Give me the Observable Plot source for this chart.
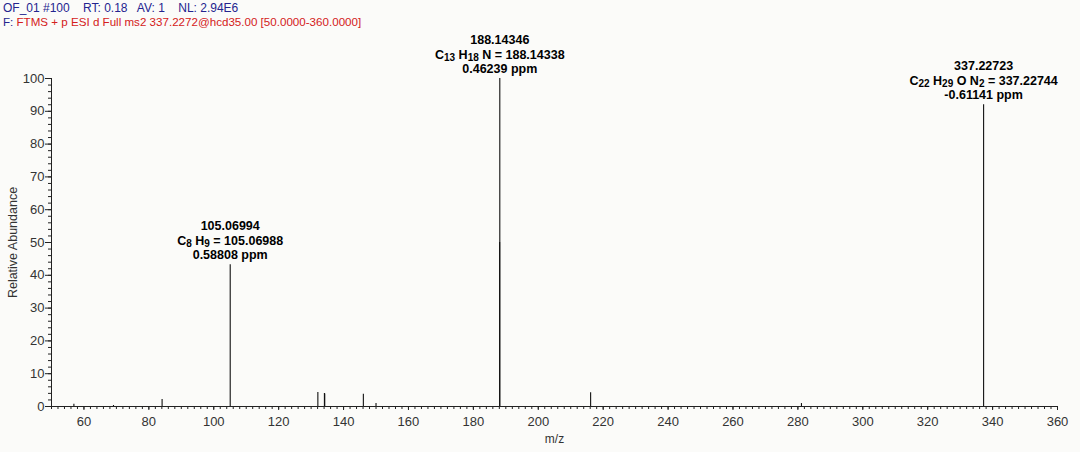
<!DOCTYPE html>
<html>
<head>
<meta charset="utf-8">
<script src="https://cdn.jsdelivr.net/npm/d3@7"></script>
<script src="https://cdn.jsdelivr.net/npm/@observablehq/plot@0.6"></script>
<style>
  html, body { margin: 0; padding: 0; background: #fbfbf9; }
  #wrap { width: 1080px; height: 452px; position: relative; overflow: hidden; font-family: "Liberation Sans", Arial, sans-serif; }
  #hdr { position: absolute; left: 3px; top: 1px; line-height: 14px; white-space: pre; }
  #hdr .l1 { color: #24248f; font-size: 12px; }
  #hdr .l2 { color: #d42020; font-size: 11.6px; }
  #hdr .l2 .f { color: #24248f; }
  #chart { position: absolute; left: 0; top: 32px; }
</style>
</head>
<body>
<div id="wrap">
  <div id="hdr"></div>
  <div id="chart"></div>
</div>
<script>
// Header text
const headerLine1 = "OF_01 #100    RT: 0.18   AV: 1    NL: 2.94E6";
const headerPrefix = "F: ";
const headerLine2 = "FTMS + p ESI d Full ms2 337.2272@hcd35.00 [50.0000-360.0000]";

// Spectrum peaks (m/z, relative abundance)
const mz =        [56.9, 69.1, 84.08, 105.06994, 132.08, 134.1, 134.2, 146.1, 150.0, 188.1, 188.14346, 216.13, 281.1, 337.22723];
const abundance = [0.7,  0.3,  2.1,   43.2,      4.3,    4.0,   3.8,   3.7,   0.9,   50.0,  100,       4.2,    0.9,   92.0];

// Annotated peaks
const labelMz =      [105.06994, 188.14346, 337.22723];
const labelTop =     [43.2, 100, 92.0];
const labelMeas =    ["105.06994", "188.14346", "337.22723"];
const labelFormula = ["C8H9", "C13H18N", "C22H29ON2"];
const labelCalc =    ["105.06988", "188.14338", "337.22744"];
const labelPpm =     ["0.58808 ppm", "0.46239 ppm", "-0.61141 ppm"];

// Axis ticks
const xTicks = [60, 80, 100, 120, 140, 160, 180, 200, 220, 240, 260, 280, 300, 320, 340, 360];
const yTicks = [0, 10, 20, 30, 40, 50, 60, 70, 80, 90, 100];

document.getElementById("hdr").innerHTML =
  '<div class="l1">' + headerLine1 + '</div>' +
  '<div class="l2"><span class="f">' + headerPrefix + '</span>' + headerLine2 + '</div>';

const peaks = mz.map((m, i) => ({mz: m, ab: abundance[i]}));
const labels = labelMz.map((m, i) => ({
  mz: m, top: labelTop[i], l1: labelMeas[i],
  l2: labelFormula[i] + " = " + labelCalc[i], l3: labelPpm[i]
}));

const xMinor = d3.range(50, 361, 2);
const yMinor = d3.range(0, 101, 2);

const fontFam = "Liberation Sans, Arial, sans-serif";

const plot = Plot.plot({
  width: 1080,
  height: 420,
  marginTop: 46,
  marginBottom: 46,
  marginLeft: 51,
  marginRight: 23,
  style: {background: "#fbfbf9", fontFamily: fontFam, fontSize: "13px", color: "#333"},
  x: {domain: [50, 360]},
  y: {domain: [0, 100]},
  marks: [
    Plot.axisX({ticks: xMinor, tickSize: 3, tickFormat: () => "", stroke: "#222", label: null}),
    Plot.axisY({ticks: yMinor, tickSize: 3, tickFormat: () => "", stroke: "#222", label: null}),
    Plot.axisX({ticks: xTicks, tickSize: 4, tickPadding: 6, stroke: "#222", fill: "#333", fontSize: 13, label: null}),
    Plot.axisY({ticks: yTicks, tickSize: 6, tickPadding: 1, stroke: "#222", fill: "#333", fontSize: 13, label: null}),
    Plot.ruleY([0], {stroke: "#222", strokeWidth: 1.2}),
    Plot.ruleX([50], {stroke: "#222", strokeWidth: 1}),
    Plot.ruleX(peaks, {x: "mz", y1: 0, y2: "ab", stroke: "#111", strokeWidth: 1.1}),
    Plot.text(labels, {x: "mz", y: "top", text: "l1", dy: -38.5, fontWeight: "bold", fontSize: 12.5, fill: "#000"}),
    Plot.text(labels, {x: "mz", y: "top", text: "l2", dy: -24, fontWeight: "bold", fontSize: 12.5, fill: "#000", className: "formula"}),
    Plot.text(labels, {x: "mz", y: "top", text: "l3", dy: -9.5, fontWeight: "bold", fontSize: 12.5, fill: "#000"}),
    Plot.text(["m/z"], {frameAnchor: "bottom", dy: 36, fontSize: 12, fill: "#333"}),
    Plot.text(["Relative Abundance"], {frameAnchor: "left", dx: -39, rotate: -90, textAnchor: "middle", fontSize: 12.5, fill: "#333"})
  ]
});

// Typeset chemical formulas with subscript digits
d3.select(plot).selectAll(".formula text").each(function(_, i) {
  const t = d3.select(this);
  t.text(null);
  const tokens = labelFormula[i].match(/[A-Z][a-z]?\d*/g);
  let lowered = false;
  const add = (txt, size, shift) => {
    const ts = t.append("tspan").text(txt);
    if (size) ts.attr("font-size", size);
    if (shift) ts.attr("dy", shift);
  };
  tokens.forEach((tok, k) => {
    const el = tok.match(/[A-Z][a-z]?/)[0];
    const num = tok.slice(el.length);
    add((k > 0 ? " " : "") + el, null, lowered ? -2.5 : 0);
    lowered = false;
    if (num) {
      add(num, 10, 2.5);
      lowered = true;
    }
  });
  add(" = " + labelCalc[i], null, lowered ? -2.5 : 0);
});

document.getElementById("chart").appendChild(plot);
</script>
</body>
</html>
